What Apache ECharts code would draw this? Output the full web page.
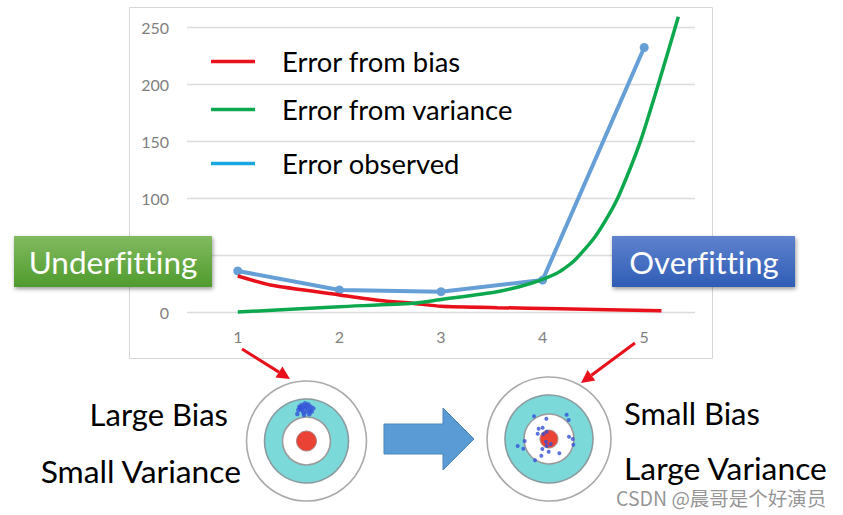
<!DOCTYPE html>
<html><head><meta charset="utf-8">
<style>html,body{margin:0;padding:0;background:#fff}#c{width:843px;height:515px}
svg text{font-variant-ligatures:none !important;font-feature-settings:"liga" 0,"clig" 0 !important}</style>
<script src="https://cdn.jsdelivr.net/npm/echarts@6/dist/echarts.min.js"></script>
</head><body><div id="c"></div>
<script>
const xTicks = [1, 2, 3, 4, 5];
const yLabelsShown = [0, 100, 150, 200, 250];
const observed = [[1, 36], [2, 19.3], [3, 17.8], [4, 28], [5, 232]];
const bias = [[1, 31.6], [1.32, 23.7], [2, 15], [2.4, 10], [2.72, 7.6], [3, 5], [3.55, 3.8], [4.17, 2.9], [5.17, 1]];
const variance = [[1, 0], [2, 4.7], [2.72, 7.6], [3, 11], [3.55, 17.8], [3.88, 25], [4.14, 34], [4.3, 44], [4.5, 64], [4.65, 85], [4.76, 104], [4.96, 149], [5.14, 200], [5.336, 259]];
const clusterDots = [[172,117],[180,100],[185,90],[195,85],[205,88],[212,95],[220,100],[205,100],[195,100],[185,105],[190,112],[200,110],[210,108],[175,105],[192,120],[208,118],[198,92],[188,97],[215,110],[178,95]];
const spreadDots = [[162,139],[199,146],[260,134],[266,150],[176,176],[188,173],[173,191],[190,192],[200,185],[267,200],[278,207],[280,224],[134,213],[113,228],[130,236],[187,237],[206,245],[184,257],[238,250],[165,271],[198,215],[212,222],[200,228]];

const FONT = 'Lato, "Noto Sans", sans-serif';
const txt = (s, x, y, size, fill, z, align) => ({type:'text', z:z||20, x, y, style:{text:s, x:0, y:0, font:size+'px '+FONT, fill:fill||'#000', textAlign:align||'left', textVerticalAlign:'middle'}});
const circle = (cx, cy, r, fill, stroke, lw) => ({type:'circle', z:1, shape:{cx, cy, r}, style:{fill, stroke, lineWidth:lw}});
const arrow = (x1,y1,x2,y2) => {
  const a=Math.atan2(y2-y1,x2-x1), L=13, W=6.5;
  const bx=x2-L*Math.cos(a), by=y2-L*Math.sin(a), nx=-Math.sin(a)*W, ny=Math.cos(a)*W;
  return [{type:'line', z:15, shape:{x1,y1,x2:bx,y2:by}, style:{stroke:'#E8101A', lineWidth:3}},
          {type:'polygon', z:15, shape:{points:[[x2,y2],[bx+nx,by+ny],[bx-nx,by-ny]]}, style:{fill:'#E8101A'}}];
};
const box = (x,y,w,h,c1,c2) => ({type:'rect', z:18, shape:{x,y,width:w,height:h}, style:{
  fill:{type:'linear',x:0,y:0,x2:0,y2:1,colorStops:[{offset:0,color:c1},{offset:1,color:c2}]},
  shadowBlur:4, shadowOffsetY:2, shadowOffsetX:1, shadowColor:'rgba(0,0,0,0.4)'}});

const legendAt = (name, top, color) => ({
  data:[{name, itemStyle:{color}}], left:211, top, icon:'rect', itemWidth:44, itemHeight:3.5,
  selectedMode:false, padding:0, textStyle:{fontFamily:FONT, fontSize:27.4, color:'#000', padding:[0,0,0,22]}
});

const hidden = (o) => Object.assign({type:'value', show:false, splitLine:{show:false}}, o);

const chart = echarts.init(document.getElementById('c'), null, {renderer:'svg'});
chart.setOption({
  animation:false,
  backgroundColor:'#fff',
  grid:[
    {left:187, top:27, width:508, height:285},
    {left:240, top:375, width:120, height:130},
    {left:480, top:370, width:130, height:135}
  ],
  legend:[
    legendAt('Error from bias', 48, '#E8101A'),
    legendAt('Error from variance', 96, '#0DA84E'),
    legendAt('Error observed', 150, '#1AA7E0')
  ],
  xAxis:[
    {type:'value', min:0.5, max:5.5, gridIndex:0, splitLine:{show:false},
     axisLine:{show:false}, axisTick:{show:false},
     axisLabel:{customValues:xTicks, color:'#7f7f7f', fontSize:16, fontFamily:FONT, margin:16}},
    hidden({gridIndex:1, min:0, max:360}),
    hidden({gridIndex:2, min:0, max:390})
  ],
  yAxis:[
    {type:'value', min:0, max:250, interval:50, gridIndex:0,
     axisLine:{show:false}, axisTick:{show:false},
     splitLine:{lineStyle:{color:'#dcdcdc', width:1.4}},
     axisLabel:{color:'#7f7f7f', fontSize:16, fontFamily:FONT, margin:18,
       formatter:(v)=> yLabelsShown.includes(v) ? String(v) : ''}},
    hidden({gridIndex:1, min:0, max:390, inverse:true}),
    hidden({gridIndex:2, min:0, max:405, inverse:true})
  ],
  series:[
    {name:'Error observed', type:'line', data:observed, symbol:'circle', symbolSize:9, clip:false, z:3,
     lineStyle:{color:'#669FD6', width:4}, itemStyle:{color:'#669FD6'}},
    {name:'Error from bias', type:'line', data:bias, smooth:0.2, showSymbol:false, clip:false, z:4,
     lineStyle:{color:'#E8101A', width:3.5}, itemStyle:{color:'#E8101A'}},
    {name:'Error from variance', type:'line', data:variance, smooth:0.2, showSymbol:false, clip:false, z:5,
     lineStyle:{color:'#0DA84E', width:3.5}, itemStyle:{color:'#0DA84E'}},
    {name:'cluster', type:'scatter', xAxisIndex:1, yAxisIndex:1, data:clusterDots, symbolSize:4.5, z:6, itemStyle:{color:'#3350D8'}},
    {name:'spread', type:'scatter', xAxisIndex:2, yAxisIndex:2, data:spreadDots, symbolSize:4, z:6, itemStyle:{color:'#3350D8'}}
  ],
  graphic:{elements:[
    {type:'rect', z:0, shape:{x:129.5,y:7.5,width:583,height:351}, style:{fill:'#fff', stroke:'#d6d6d6', lineWidth:1}},
    box(14,236,198,51,'#82BA60','#4F9B2D'),
    txt('Underfitting',113,261.5,31.5,'#fff',20,'center'),
    box(612,236,183,51,'#5F82CE','#2F5DB5'),
    txt('Overfitting',704,261.5,31,'#fff',20,'center'),
    ...arrow(242,349,290,379),
    ...arrow(635,343,581,383),
    circle(306.5,441,60,'#fff','#aaaaaa',1.6),
    circle(306.5,441,42,'#7BD9DA','#8a9a9e',1.6),
    circle(306.5,441,24,'#fff','#9a9a9a',1.6),
    circle(306.5,441,10,'#EA4335','#a88',1),
    circle(549,439,62,'#fff','#aaaaaa',1.6),
    circle(549,439,44,'#7BD9DA','#8a9a9e',1.6),
    circle(549,439,25,'#fff','#9a9a9a',1.6),
    circle(549,439,9,'#EA4335','#a88',1),
    {type:'polygon', z:10, shape:{points:[[384,424],[443,424],[443,408],[474,439],[443,470],[443,454],[384,454]]},
     style:{fill:'#5B9BD5', stroke:'#4A85BA', lineWidth:1}},
    txt('Large Bias',228,414,31,'#000',20,'right'),
    txt('Small Variance',241,471,31.8,'#000',20,'right'),
    txt('Small Bias',624,413,31,'#000',20,'left'),
    txt('Large Variance',624,468,31.8,'#000',20,'left'),
    {type:'text', z:22, x:616, y:497, style:{text:'CSDN @晨哥是个好演员', x:0, y:0,
      font:'19.5px "Noto Sans CJK SC", sans-serif', fill:'rgba(130,130,130,0.85)', textVerticalAlign:'middle'}}
  ]}
});
</script></body></html>
